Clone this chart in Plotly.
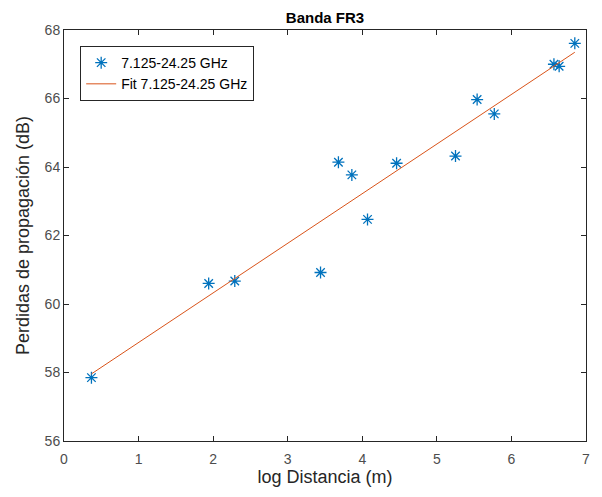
import plotly.graph_objects as go

# measured points (log distance, path loss in dB)
log_dist = [0.368, 1.94, 2.29, 3.44, 3.68, 3.86, 4.07, 4.46, 5.25, 5.54, 5.77, 6.57, 6.64, 6.85]
path_loss = [57.85, 60.60, 60.67, 60.92, 64.14, 63.77, 62.47, 64.11, 64.32, 65.97, 65.55, 67.00, 66.94, 67.61]

# linear fit endpoints
fit_x = [0.368, 6.85]
fit_y = [57.96, 67.35]

x_ticks = [0, 1, 2, 3, 4, 5, 6, 7]
y_ticks = [56, 58, 60, 62, 64, 66, 68]

series_name = "7.125-24.25 GHz"
axis_color = "#262626"
label_color = "#4d4d4d"
font_family = "Liberation Sans, Arial, sans-serif"

fig = go.Figure()
fig.add_trace(
    go.Scatter(
        x=log_dist,
        y=path_loss,
        mode="markers",
        name=series_name,
        marker={
            "symbol": "asterisk-open",
            "size": 10,
            "color": "#0072BD",
            "line": {"color": "#0072BD", "width": 1.3},
        },
    )
)
fig.add_trace(
    go.Scatter(
        x=fit_x,
        y=fit_y,
        mode="lines",
        name=f"Fit {series_name}",
        line={"color": "#D95319", "width": 1},
    )
)

axis_style = {
    "showline": True,
    "linecolor": axis_color,
    "linewidth": 1,
    "mirror": "ticks",
    "ticks": "inside",
    "ticklen": 5,
    "tickwidth": 1,
    "tickcolor": axis_color,
    "showgrid": False,
    "zeroline": False,
    "tickfont": {"size": 14, "color": label_color, "family": font_family},
}

fig.update_xaxes(
    range=[0, 7],
    tickvals=x_ticks,
    ticklabelstandoff=5,
    title={"text": "log Distancia (m)", "font": {"size": 18, "color": axis_color}, "standoff": 4},
    **axis_style,
)
fig.update_yaxes(
    range=[56, 68],
    tickvals=y_ticks,
    title={"text": "Perdidas de propagación (dB)", "font": {"size": 18, "color": axis_color}, "standoff": 10},
    **axis_style,
)

# page body adds an 8px offset, so the figure is 8px smaller than the window
fig.update_layout(
    width=594,
    height=489,
    margin={"l": 56, "r": 16, "t": 22, "b": 56},
    paper_bgcolor="white",
    plot_bgcolor="white",
    font={"family": font_family, "color": axis_color},
    title={
        "text": "<b>Banda FR3</b>",
        "font": {"size": 15, "color": "#000000"},
        "x": 0.5,
        "xref": "paper",
        "xanchor": "center",
        "y": 1 - 10 / 489,
        "yref": "container",
        "yanchor": "middle",
        "pad": {"t": 0, "b": 0},
    },
    legend={
        "x": 0.031,
        "y": 0.961,
        "xanchor": "left",
        "yanchor": "top",
        "bordercolor": axis_color,
        "borderwidth": 1,
        "bgcolor": "white",
        "font": {"size": 14, "color": "#000000"},
        "tracegroupgap": 0,
    },
    showlegend=True,
)

fig.write_html("out.html")
